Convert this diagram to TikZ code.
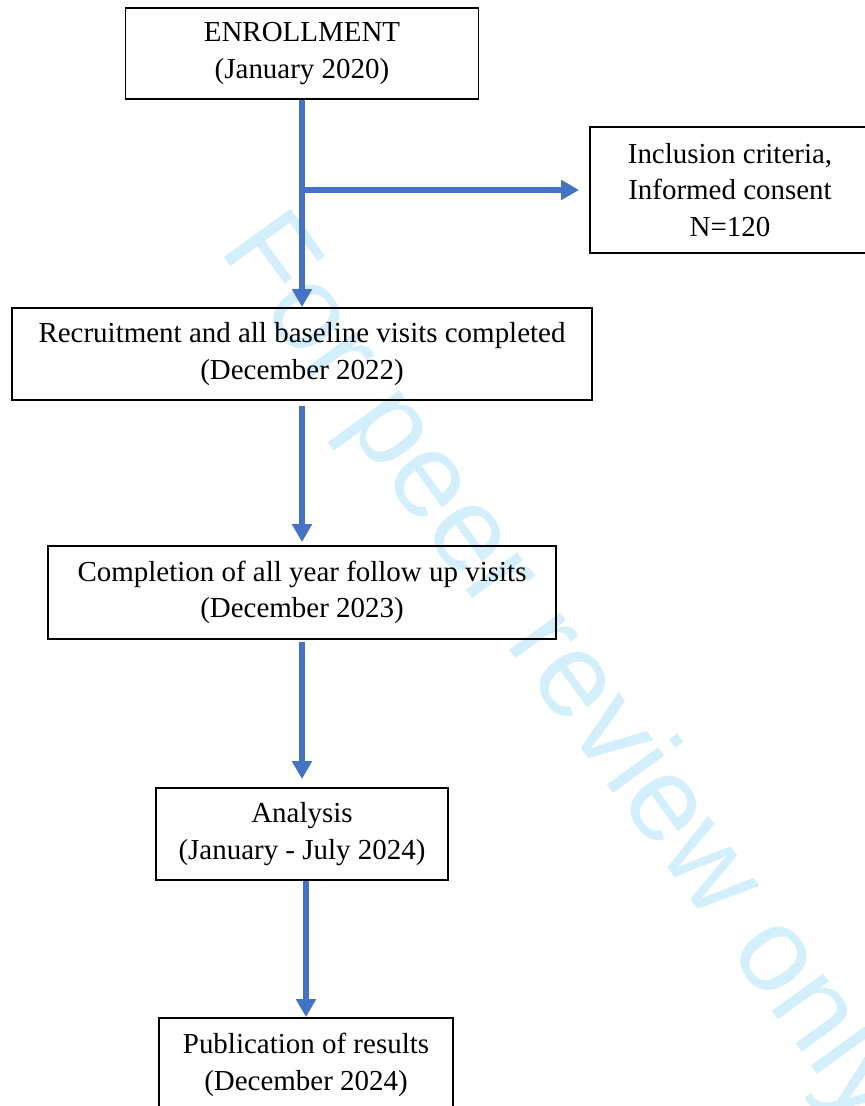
\documentclass[tikz,border=0pt]{standalone}
\usepackage{fontspec}
\setmainfont{Liberation Serif}
\newfontfamily\wmfont{Liberation Sans}
\usepackage{tikz}
\usetikzlibrary{arrows.meta}
\definecolor{flowblue}{RGB}{68,114,196}
\definecolor{wmcyan}{RGB}{212,239,252}

\begin{document}
\begin{tikzpicture}[x=0.025cm,y=-0.025cm,
  box/.style={draw,line width=1.3pt,inner sep=0pt,align=center,font=\fontsize{20.6}{26}\selectfont},
  flow/.style={draw=flowblue,line width=4pt,-{Triangle[length=0.45cm,width=0.48cm]}}]
  \useasboundingbox (0,0) rectangle (864,1106);
  % watermark behind everything
  \node[anchor=base west,inner sep=0pt,rotate=-54,text=wmcyan,font=\wmfont\fontsize{85.4}{90}\selectfont] (wm) at (218,249) {For peer review only};
  % boxes
  \node[box,minimum width=8.825cm,minimum height=2.275cm] (enrol) at (302,53.5) {ENROLLMENT\\(January 2020)};
  \node[box,minimum width=7cm,minimum height=3.15cm] (incl) at (730,190) {Inclusion criteria,\\Informed consent\\N=120};
  \node[box,minimum width=14.5cm,minimum height=2.3cm] (recruit) at (302,354) {Recruitment and all baseline visits completed\\(December 2022)};
  \node[box,minimum width=12.7cm,minimum height=2.325cm] (compl) at (302,592.5) {Completion of all year follow up visits\\(December 2023)};
  \node[box,minimum width=7.3cm,minimum height=2.3cm] (anal) at (302,834) {Analysis\\(January - July 2024)};
  \node[box,minimum width=7.35cm,minimum height=2.35cm] (publ) at (306,1065) {Publication of results\\(December 2024)};
  % arrows
  \draw[flow] (enrol.south) -- (recruit.north);
  \draw[flow,shorten >=0.25cm] (enrol.south |- incl.west) -- (incl.west);
  \draw[flow,shorten <=0.125cm,shorten >=0.075cm] (recruit.south) -- (compl.north);
  \draw[flow,shorten <=0.05cm,shorten >=0.2cm] (compl.south) -- (anal.north);
  \draw[flow] (anal.south -| publ.north) -- (publ.north);
\end{tikzpicture}
\end{document}
